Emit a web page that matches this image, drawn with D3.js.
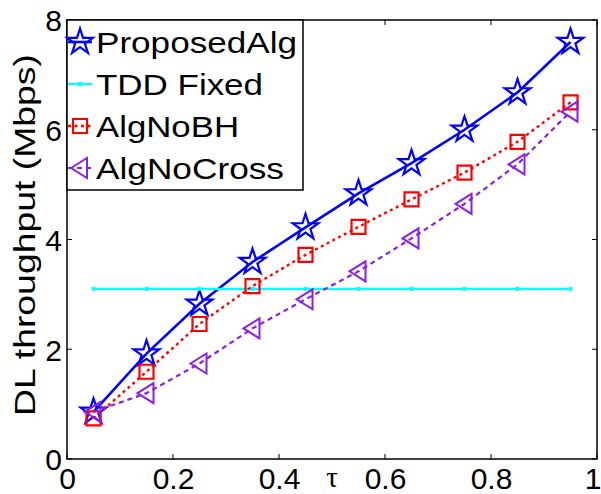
<!DOCTYPE html>
<html><head><meta charset="utf-8">
<script src="https://cdn.jsdelivr.net/npm/d3@7"></script>
<style>body{margin:0;background:#fff}svg{display:block}text{font-family:"Liberation Sans",Arial,sans-serif}</style>
</head><body>
<script>
const tau = [0.05,0.15,0.25,0.35,0.45,0.55,0.65,0.75,0.85,0.95];
const proposedAlg = [0.86,1.92,2.83,3.59,4.22,4.84,5.39,6.0,6.68,7.6];
const tddFixed = [3.1,3.1,3.1,3.1,3.1,3.1,3.1,3.1,3.1,3.1];
const algNoBH = [0.74,1.59,2.46,3.15,3.72,4.23,4.73,5.22,5.78,6.5];
const algNoCross = [0.86,1.2,1.74,2.38,2.91,3.42,4.02,4.65,5.37,6.33];
const seriesNames = ["ProposedAlg","TDD Fixed","AlgNoBH","AlgNoCross"];
const xTicks = [0,0.2,0.4,0.6,0.8,1];
const xTickLabels = ["0","0.2","0.4","0.6","0.8","1"];
const yTicks = [0,2,4,6,8];
const xLabel = "\u03c4";
const yLabel = "DL throughput (Mbps)";

const W=601,H=494;
const L=67,R=597,T=20,B=459;
const svg=d3.select("body").append("svg").attr("width",W).attr("height",H);
const x=d3.scaleLinear().domain([0,1]).range([L,R]);
const y=d3.scaleLinear().domain([0,8]).range([B,T]);

function starPath(R0){const r=R0*0.382;let p=[];for(let i=0;i<10;i++){const a=-Math.PI/2+i*Math.PI/5;const rr=i%2?r:R0;p.push([rr*Math.cos(a),rr*Math.sin(a)]);}return "M"+p.map(d=>d.join(",")).join("L")+"Z";}
const markers={
  star:starPath(13.5),
  square:"M-7,-7L7,-7L7,7L-7,7Z",
  tri:"M-9,0L7,-10L7,10Z",
  dot:"M-1.5,-1.5L1.5,-1.5L1.5,1.5L-1.5,1.5Z"
};
const styles=[
  {data:proposedAlg,color:"#0000ff",dash:null,lw:2.6,marker:"star",mw:2.2},
  {data:tddFixed,color:"#00ffff",dash:null,lw:2.2,marker:"dot",mw:1},
  {data:algNoBH,color:"#ff0000",dash:"3,3.5",lw:2.4,marker:"square",mw:2.2},
  {data:algNoCross,color:"#8a1fe6",dash:"5,4",lw:2.2,marker:"tri",mw:2}
];

const g=svg.append("g");
g.append("rect").attr("x",L).attr("y",T).attr("width",R-L).attr("height",B-T).attr("fill","none").attr("stroke","#000").attr("stroke-width",1.5);
const tl=5;
xTicks.forEach((t,i)=>{
  g.append("line").attr("x1",x(t)).attr("x2",x(t)).attr("y1",B).attr("y2",B-tl).attr("stroke","#000").attr("stroke-width",1);
  g.append("line").attr("x1",x(t)).attr("x2",x(t)).attr("y1",T).attr("y2",T+tl).attr("stroke","#000").attr("stroke-width",1);
});
yTicks.forEach(t=>{
  g.append("line").attr("x1",L).attr("x2",L+tl).attr("y1",y(t)).attr("y2",y(t)).attr("stroke","#000").attr("stroke-width",1);
  g.append("line").attr("x1",R).attr("x2",R-tl).attr("y1",y(t)).attr("y2",y(t)).attr("stroke","#000").attr("stroke-width",1);
});
const xAxis=d3.axisBottom(x).tickValues(xTicks).tickFormat((d,i)=>xTickLabels[i]).tickSize(0).tickPadding(8);
const xa=svg.append("g").attr("transform",`translate(0,${B})`).call(xAxis);
xa.select(".domain").remove();
xa.selectAll("text").attr("font-size",30).attr("fill","#000").attr("font-family","Liberation Sans, Arial, sans-serif").attr("dy","0.72em");
xa.selectAll(".tick").filter(d=>d===1).select("text").attr("text-anchor","end").attr("x",4);
const yAxis=d3.axisLeft(y).tickValues(yTicks).tickFormat(d3.format("d")).tickSize(0).tickPadding(5);
const ya=svg.append("g").attr("transform",`translate(${L},0)`).call(yAxis);
ya.select(".domain").remove();
ya.selectAll("text").attr("font-size",30).attr("fill","#000").attr("font-family","Liberation Sans, Arial, sans-serif").attr("dy","0.36em");

svg.append("text").attr("x",332).attr("y",487).attr("text-anchor","middle").attr("font-size",29).style("font-family","'Liberation Serif','DejaVu Serif',serif").text(xLabel);
svg.append("text").attr("transform","translate(35,235) rotate(-90)").attr("text-anchor","middle").attr("font-size",30).attr("textLength",362).attr("lengthAdjust","spacingAndGlyphs").text(yLabel);

const line=d3.line().x((d,i)=>x(tau[i])).y(d=>y(d));
styles.forEach(s=>{
  const sg=svg.append("g");
  sg.append("path").attr("d",line(s.data)).attr("fill","none").attr("stroke",s.color).attr("stroke-width",s.lw).attr("stroke-dasharray",s.dash);
  sg.selectAll("path.m").data(s.data).join("path").attr("class","m")
    .attr("transform",(d,i)=>`translate(${x(tau[i])},${y(d)})`)
    .attr("d",markers[s.marker]).attr("fill",s.marker==="dot"?s.color:"none").attr("stroke",s.color).attr("stroke-width",s.mw);
});

const lg=svg.append("g");
lg.append("rect").attr("x",L).attr("y",T).attr("width",236).attr("height",170).attr("fill","#fff").attr("stroke","#000").attr("stroke-width",1.5);
const rowY=[42,84,126,168];
const textLen=[201,167,143,188];
styles.forEach((s,i)=>{
  const yy=rowY[i];
  lg.append("line").attr("x1",68).attr("x2",92).attr("y1",yy).attr("y2",yy).attr("stroke",s.color).attr("stroke-width",s.lw).attr("stroke-dasharray",s.dash);
  lg.append("path").attr("transform",`translate(80,${yy})`).attr("d",markers[s.marker]).attr("fill",s.marker==="dot"?s.color:"none").attr("stroke",s.color).attr("stroke-width",s.mw);
  lg.append("text").attr("x",96).attr("y",yy+11).attr("font-size",30).attr("textLength",textLen[i]).attr("lengthAdjust","spacingAndGlyphs").text(seriesNames[i]);
});
</script>
</body></html>
